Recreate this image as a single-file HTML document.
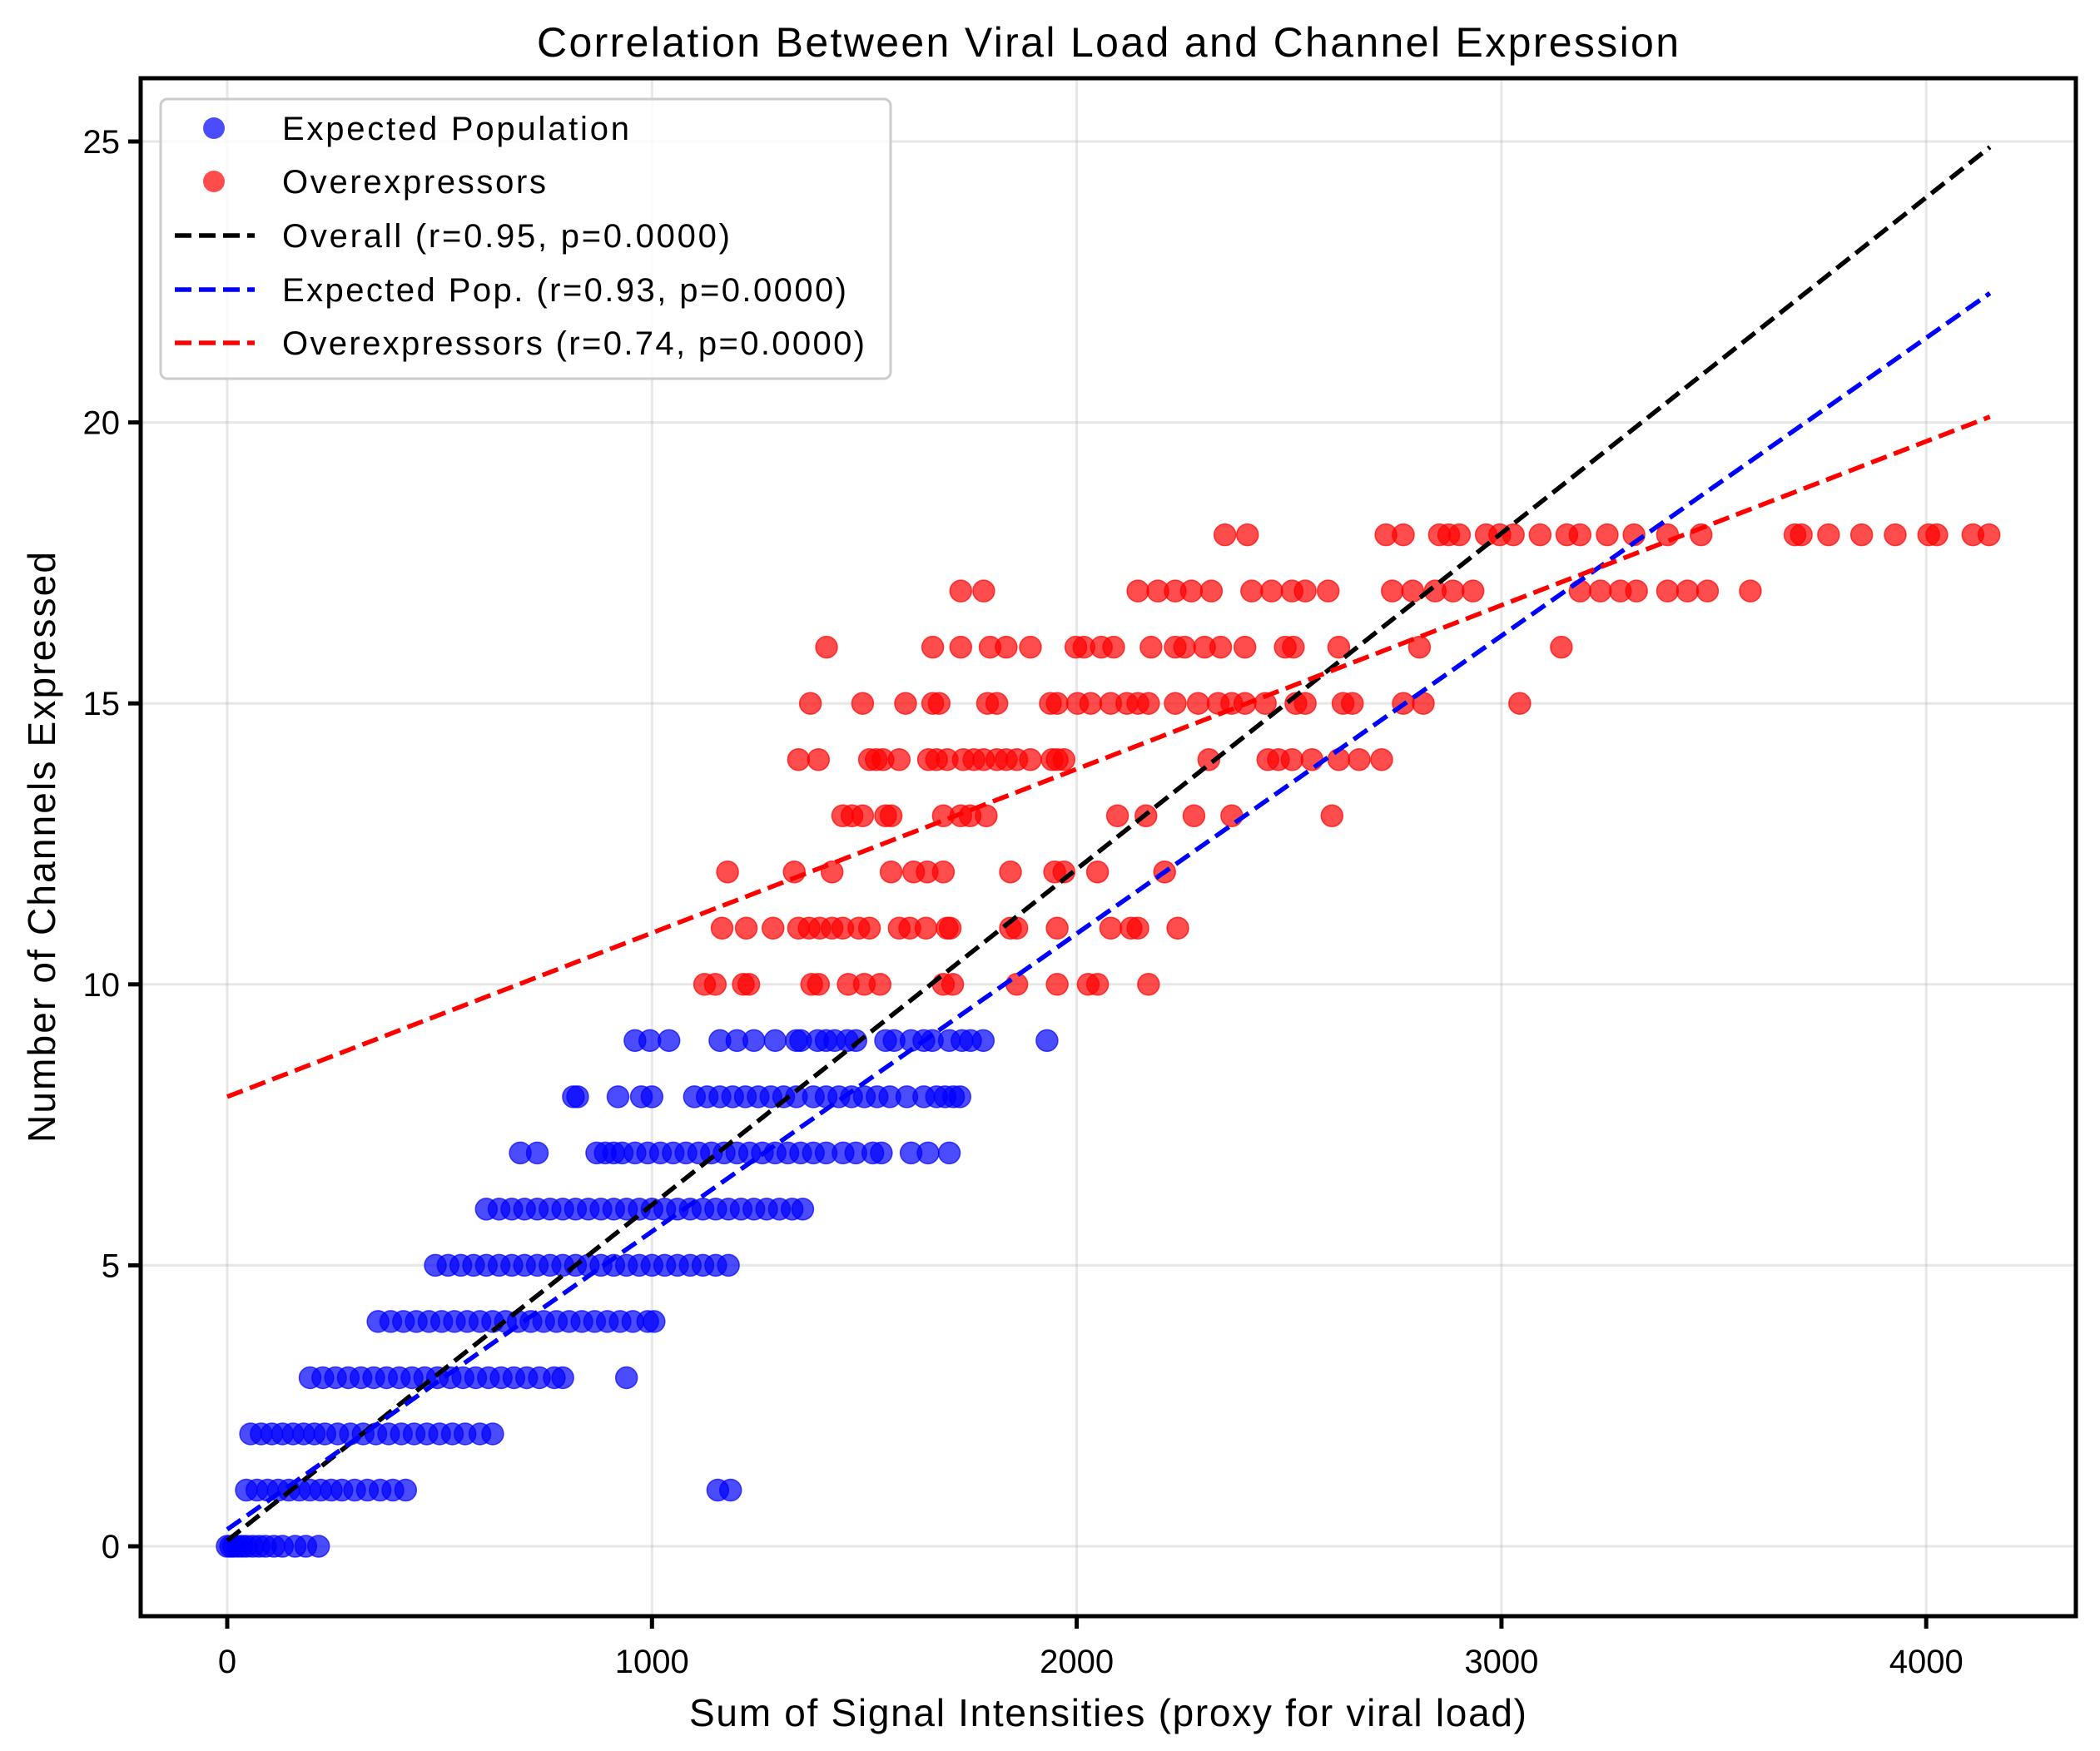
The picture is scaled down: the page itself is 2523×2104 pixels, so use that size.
<!DOCTYPE html>
<html><head><meta charset="utf-8"><style>
html,body{margin:0;padding:0;background:#fff;}
svg{display:block;font-family:"Liberation Sans",Arial,sans-serif;}
</style></head><body>
<svg id="chart" width="2523" height="2104" viewBox="0 0 2523 2104" xmlns="http://www.w3.org/2000/svg">
<rect width="2523" height="2104" fill="#fff"/>
<g id="grid"></g>
<g id="lines"></g>
<g id="points"></g>
<g id="axes"></g>
<g id="legend"></g>
</svg>
<script>
const xTicks=[0,1000,2000,3000,4000];
const yTicks=[0,5,10,15,20,25];
const blueY0=[0,8,15,25,35,45,60,75,90,110,130,160,185,215];
const blueY1=[45,70,95,120,145,170,195,220,245,270,300,330,360,390,420,1155,1185];
const blueY2=[55,80,105,130,155,180,205,230,260,290,320,350,380,410,440,470,500,530,560,595,625];
const blueY3=[195,225,255,285,315,345,375,405,435,465,495,525,555,585,615,645,675,705,735,770,790,940];
const blueY4=[355,385,415,445,475,505,535,565,595,625,655,685,715,745,775,805,835,865,895,925,955,990,1005];
const blueY5=[490,520,550,580,610,640,670,700,730,760,790,820,850,880,910,940,970,1000,1030,1060,1090,1120,1150,1180];
const blueY6=[610,640,670,700,730,760,790,820,850,880,910,940,970,1000,1030,1060,1090,1120,1150,1180,1210,1240,1270,1300,1330,1355];
const blueY7=[690,730,870,890,910,930,960,990,1020,1050,1080,1110,1140,1170,1200,1230,1260,1290,1320,1350,1380,1410,1450,1480,1520,1540,1610,1650,1700];
const blueY8=[815,825,920,975,1000,1100,1130,1160,1190,1220,1250,1280,1310,1340,1380,1410,1440,1470,1500,1530,1560,1600,1640,1670,1690,1710,1725];
const blueY9=[960,995,1040,1160,1200,1240,1290,1340,1350,1390,1410,1430,1460,1480,1550,1570,1610,1640,1660,1700,1730,1750,1780,1930];
const redY10=[1124,1149,1215,1228,1376,1392,1462,1500,1537,1686,1708,1859,1954,2027,2049,2169];
const redY11=[1165,1222,1285,1345,1370,1395,1424,1449,1487,1512,1582,1607,1645,1695,1702,1844,1859,1954,2080,2128,2144,2238];
const redY12=[1178,1335,1424,1563,1616,1648,1686,1844,1948,1970,2049,2207];
const redY13=[1449,1471,1496,1550,1563,1686,1727,1749,1787,2096,2163,2276,2365,2601];
const redY14=[1345,1392,1512,1528,1544,1582,1651,1670,1695,1733,1758,1781,1812,1834,1859,1891,1942,1954,1970,2311,2450,2475,2507,2554,2617,2665,2718];
const redY15=[1373,1496,1597,1661,1676,1790,1812,1938,1954,2002,2033,2080,2118,2144,2169,2232,2286,2333,2365,2396,2444,2516,2538,2627,2649,2769,2816,3043];
const redY16=[1411,1661,1727,1796,1834,1891,1998,2017,2058,2087,2175,2232,2254,2301,2339,2396,2491,2510,2617,2807,3141];
const redY17=[1727,1781,2144,2191,2232,2270,2317,2412,2459,2507,2538,2592,2743,2791,2844,2886,2933,3185,3233,3280,3318,3391,3438,3485,3586];
const redY18=[2349,2402,2728,2769,2854,2876,2901,2964,2996,3028,3091,3154,3185,3249,3312,3391,3470,3691,3706,3770,3848,3927,4006,4025,4110,4148];
const blueRows=[blueY0,blueY1,blueY2,blueY3,blueY4,blueY5,blueY6,blueY7,blueY8,blueY9];
const blueLevels=[0,1,2,3,4,5,6,7,8,9];
const redRows=[redY10,redY11,redY12,redY13,redY14,redY15,redY16,redY17,redY18];
const redLevels=[10,11,12,13,14,15,16,17,18];
const fitX=[0,4150];
const overallFit=[0.1,24.9];
const blueFit=[0.3,22.3];
const redFit=[8.0,20.1];
const legendLabels=["Expected Population","Overexpressors","Overall (r=0.95, p=0.0000)","Expected Pop. (r=0.93, p=0.0000)","Overexpressors (r=0.74, p=0.0000)"];

const L=169,R=2494,T=94,B=1942;
const sx=v=>273+v*0.5103;
const sy=v=>1858-v*67.52;
const NS="http://www.w3.org/2000/svg";
function mk(tag,attrs,parent){const e=document.createElementNS(NS,tag);for(const k in attrs)e.setAttribute(k,attrs[k]);parent.appendChild(e);return e;}
const grid=document.getElementById('grid'),lines=document.getElementById('lines'),pts=document.getElementById('points'),axes=document.getElementById('axes'),leg=document.getElementById('legend');

xTicks.forEach(t=>{
  const g=mk('line',{x1:sx(t),x2:sx(t),y1:T,y2:B,stroke:'#b0b0b0','stroke-opacity':0.3,'stroke-width':3},grid);
  
  
  const tk=mk('line',{x1:sx(t),x2:sx(t),y1:B,y2:B+15,stroke:'#000','stroke-width':5},axes);
  
  
  const tx=mk('text',{x:sx(t),y:2010,'font-size':40,'text-anchor':'middle',fill:'#000'},axes);
  tx.textContent=t;
  
  
});
yTicks.forEach(t=>{
  const g=mk('line',{x1:L,x2:R,y1:sy(t),y2:sy(t),stroke:'#b0b0b0','stroke-opacity':0.3,'stroke-width':3},grid);
  
  
  const tk=mk('line',{x1:L-15,x2:L,y1:sy(t),y2:sy(t),stroke:'#000','stroke-width':5},axes);
  
  
  const tx=mk('text',{x:144,y:sy(t)+14,'font-size':40,'text-anchor':'end',fill:'#000'},axes);
  tx.textContent=t;
  
  
});

blueRows.forEach((row,i)=>row.forEach(x=>{
  const c=mk('circle',{cx:sx(x),cy:sy(blueLevels[i]),r:13,fill:'#0000ff','fill-opacity':0.7,stroke:'#0000ff','stroke-opacity':0.7,'stroke-width':1.5},pts);
  
  
}));
redRows.forEach((row,i)=>row.forEach(x=>{
  const c=mk('circle',{cx:sx(x),cy:sy(redLevels[i]),r:13,fill:'#ff0000','fill-opacity':0.7,stroke:'#ff0000','stroke-opacity':0.7,'stroke-width':1.5},pts);
  
  
}));

function fitLine(vals,color,name){
  const l=mk('line',{x1:sx(fitX[0]),y1:sy(vals[0]),x2:sx(fitX[1]),y2:sy(vals[1]),stroke:color,'stroke-width':5.5,'stroke-dasharray':'20 9'},pts);
  
  
}
fitLine(overallFit,'#000','overall-fit-line');
fitLine(blueFit,'#0000ff','expected-fit-line');
fitLine(redFit,'#ff0000','overexpressor-fit-line');

const frame=mk('rect',{x:L,y:T,width:R-L,height:B-T,fill:'none',stroke:'#000','stroke-width':5},axes);



const title=mk('text',{x:1331,y:68,'font-size':50,'text-anchor':'middle',fill:'#000',textLength:1372},axes);
title.textContent='Correlation Between Viral Load and Channel Expression';


const xl=mk('text',{x:1331,y:2074,'font-size':46,'text-anchor':'middle',fill:'#000',textLength:1006},axes);
xl.textContent='Sum of Signal Intensities (proxy for viral load)';


const yl=mk('text',{x:0,y:0,'font-size':46,'text-anchor':'middle',fill:'#000',textLength:710,transform:'translate(66,1018) rotate(-90)'},axes);
yl.textContent='Number of Channels Expressed';



const box=mk('rect',{x:193,y:119,width:877,height:336,rx:8,fill:'#fff','fill-opacity':0.8,stroke:'#cccccc','stroke-width':3},leg);


const ly=[154,218,283,348,412];
const widths=[417,317,538,678,700];
legendLabels.forEach((lab,i)=>{
  if(i<2){
    const c=mk('circle',{cx:257,cy:ly[i],r:13,fill:i==0?'#0000ff':'#ff0000','fill-opacity':0.7},leg);
    
    
  } else {
    const col=['#000','#0000ff','#ff0000'][i-2];
    const l=mk('line',{x1:210,x2:306,y1:ly[i],y2:ly[i],stroke:col,'stroke-width':5.5,'stroke-dasharray':'20 9'},leg);
    
    
  }
  const t=mk('text',{x:339,y:ly[i]+14,'font-size':40,fill:'#000',textLength:widths[i]},leg);
  t.textContent=lab;
  
  
});
</script>
</body></html>
